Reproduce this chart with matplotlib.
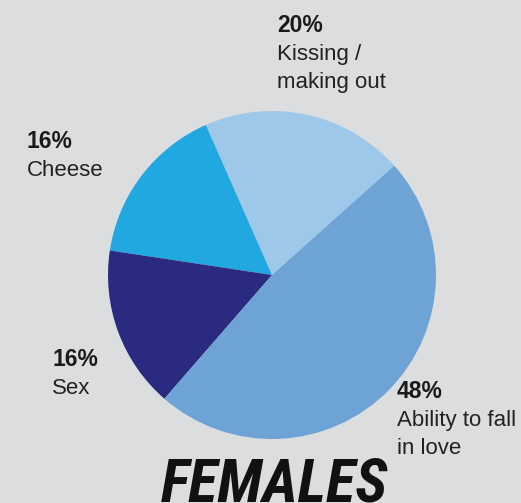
import matplotlib
matplotlib.use("Agg")
import matplotlib.pyplot as plt

categories = ["Kissing /\nmaking out", "Cheese", "Sex", "Ability to fall\nin love"]
values = [20, 16, 16, 48]
pct_labels = ["20%", "16%", "16%", "48%"]
colors = ["#9dc8ea", "#22a8e0", "#2a2b80", "#6ea3d6"]
title = "FEMALES"

W, H = 521, 503
bg = "#dcdddf"
fig = plt.figure(figsize=(W / 100, H / 100), dpi=100, facecolor=bg)
ax = fig.add_axes([0, 0, 1, 1])
ax.set_xlim(0, W)
ax.set_ylim(0, H)
ax.set_aspect("equal")
ax.axis("off")
ax.set_facecolor(bg)

ax.pie(values, colors=colors, startangle=41.8, counterclock=True,
       center=(272, H - 275), radius=164,
       wedgeprops=dict(linewidth=0, antialiased=True))
ax.set_xlim(0, W)
ax.set_ylim(0, H)

# label positions: (left x, baseline of percent line in px from top)
label_pos = [(277, 32), (27, 148), (52, 366), (397, 398)]
fam = ["Liberation Sans", "DejaVu Sans"]
lh = 28
for (x, yb), pct, cat in zip(label_pos, pct_labels, categories):
    ax.text(x, H - yb, pct, family=fam, fontsize=16.5, fontweight="bold",
            color="#1a1a1a", ha="left", va="baseline")
    for i, line in enumerate(cat.split("\n")):
        ax.text(x, H - yb - lh * (i + 1), line, family=fam, fontsize=16,
                color="#222222", ha="left", va="baseline")

ax.text(274, H - 502, title, family=["Roboto Condensed", "DejaVu Sans"],
        fontsize=44, fontweight="bold", fontstyle="italic", color="#111111",
        ha="center", va="baseline")

fig.savefig("out.png", dpi=100, facecolor=bg)
